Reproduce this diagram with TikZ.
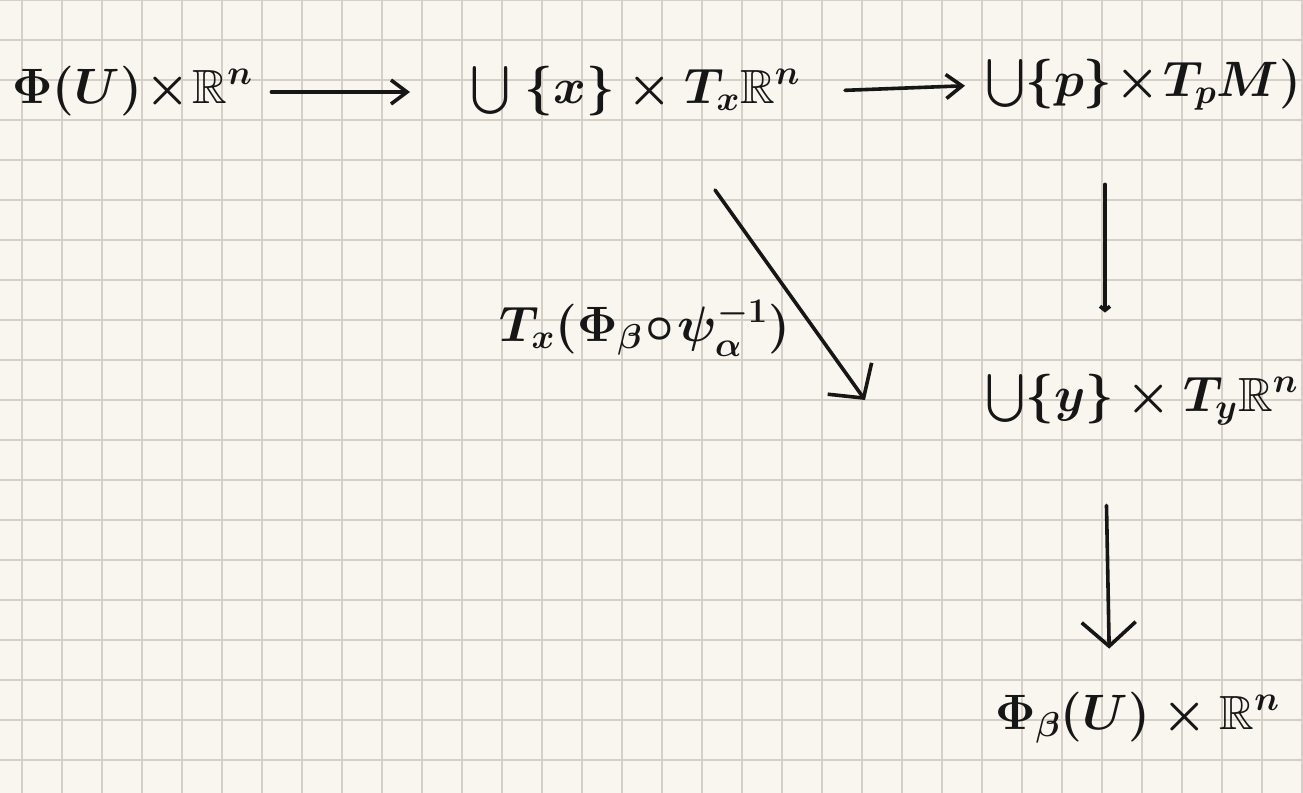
\documentclass[tikz,border=0pt]{standalone}
\usepackage{amsmath,amssymb}
\usepackage{tikz}
\usetikzlibrary{arrows.meta,calc}

\definecolor{paper}{RGB}{249,245,239}
\definecolor{gridrule}{RGB}{214,207,199}
\definecolor{ink}{RGB}{22,22,22}

\begin{document}
\begin{tikzpicture}[
    x=0.5pt, y=-0.5pt,
    term/.style={text=ink, inner sep=0pt, text height=18pt, text depth=7pt,
                 font=\fontsize{24}{28}\selectfont\boldmath},
    maplabel/.style={term},
    arrow/.style={-{Straight Barb[length=8pt, width=12pt, line width=1.8pt]},
                  line width=1.8pt, draw=ink, line cap=round},
    bigarrow/.style={arrow, -{Straight Barb[length=12pt, width=27pt, line width=1.8pt]}},
    hookarrow/.style={arrow, -{Straight Barb[length=2pt, width=5pt, line width=1.8pt]}},
    gridline/.style={draw=gridrule, line width=1pt}
]

% Squared paper.
\fill[paper] (0,0) rectangle (1303,793);
\useasboundingbox (0,0) rectangle (1303,793);
\foreach \gx in {22,62,...,1302} \draw[gridline] (\gx,0) -- (\gx,793);
\foreach \gy in {0,40,...,760} \draw[gridline] (0,\gy) -- (1303,\gy);

% Top row.
\node[term, anchor=west] (chart) at (12,92) {$\Phi(U)\!\times\!\mathbb{R}^n$};
\node[term, anchor=west] (bundle) at (470,92) {$\bigcup\ \{x\}\times T_x\mathbb{R}^n$};
\node[term, anchor=west] (tangent) at (985,85) {$\bigcup\{p\}\!\times\! T_pM)$};

% Right column.
\node[term, anchor=west] (fiber) at (985,400) {$\bigcup\{y\}\times T_y\mathbb{R}^n$};
\node[term, anchor=west] (target) at (995,718) {$\Phi_\beta(U)\times\mathbb{R}^n$};

% Diagonal map and its name.
\node[maplabel] (mapname) at (645,330) {$T_x(\Phi_\beta\!\circ\!\psi_\alpha^{-1})$};
\coordinate (diagfrom) at (715,190);
\coordinate (diagto) at (865,400);

\draw[arrow, shorten <=9pt, shorten >=30pt] (chart.east) -- (bundle.west);
\draw[arrow, shorten <=22pt, shorten >=10pt] (bundle.east) -- (tangent.west);
\draw[bigarrow] (diagfrom) -- (diagto);
\draw[hookarrow, shorten <=37pt, shorten >=31pt] ($(tangent.south west)+(120,0)$) -- ($(fiber.north west)+(120,0)$);
\draw[bigarrow, shorten <=40pt, shorten >=22pt] ($(fiber.south west)+(120,0)$) -- ($(target.north west)+(115,0)$);

\end{tikzpicture}
\end{document}
